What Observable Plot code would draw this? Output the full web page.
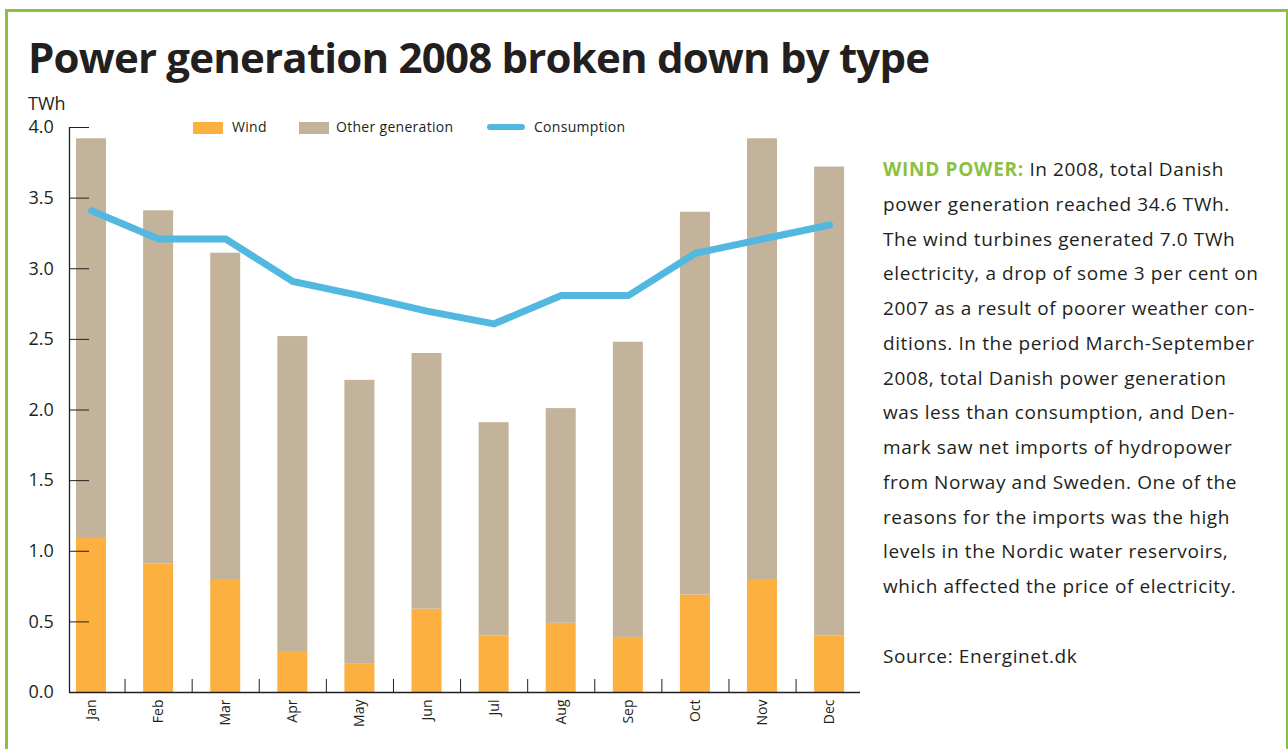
<!DOCTYPE html>
<html>
<head>
<meta charset="utf-8">
<script src="https://cdn.jsdelivr.net/npm/d3@7"></script>
<script src="https://cdn.jsdelivr.net/npm/@observablehq/plot@0.6"></script>
<style>
  body { margin: 0; width: 1288px; height: 749px; overflow: hidden; background: #fff;
         font-family: "Open Sans", sans-serif; color: #231f20; position: relative; }
  #box { position: absolute; left: 5px; top: 9px; width: 1278px; height: 760px;
         border: 3px solid #8cc03f; border-bottom: none; }
  h1 { position: absolute; left: 28px; top: 36px; margin: 0; font-size: 42px; line-height: 42px;
       font-weight: 700; letter-spacing: -0.8px; white-space: nowrap; }
  #unit { position: absolute; left: 28px; top: 94px; font-size: 18px; line-height: 18px; }
  #chart { position: absolute; left: 0; top: 110px; }
  .legend { position: absolute; top: 120px; font-size: 14px; line-height: 14px; white-space: nowrap;
            letter-spacing: 0.3px; }
  .sw { position: absolute; top: 122px; width: 30px; height: 12px; }
  .ln { position: absolute; top: 124px; width: 38px; height: 6px; border-radius: 3px; }
  #note { position: absolute; left: 883px; top: 152px; width: 400px; font-size: 19px;
          line-height: 34.75px; letter-spacing: 0.6px; white-space: nowrap; }
  #note b { color: #8cc03f; font-weight: 700; letter-spacing: 0.7px; }
</style>
</head>
<body>
<div id="box"></div>
<h1>Power generation 2008 broken down by type</h1>
<div id="unit">TWh</div>
<div id="chart"></div>
<div id="legend"></div>
<div id="note"></div>
<script>
// Monthly Danish power figures, 2008 (TWh)
const months = ["Jan", "Feb", "Mar", "Apr", "May", "Jun", "Jul", "Aug", "Sep", "Oct", "Nov", "Dec"];
const wind = [1.09, 0.91, 0.80, 0.29, 0.20, 0.59, 0.40, 0.49, 0.39, 0.69, 0.80, 0.40];
const totalGeneration = [3.92, 3.41, 3.11, 2.52, 2.21, 2.40, 1.91, 2.01, 2.48, 3.40, 3.92, 3.72];
const consumption = [3.41, 3.21, 3.21, 2.91, 2.81, 2.70, 2.61, 2.81, 2.81, 3.11, 3.21, 3.31];
const yTicks = [0, 0.5, 1, 1.5, 2, 2.5, 3, 3.5, 4];

const seriesNames = ["Wind", "Other generation", "Consumption"];
const colors = { wind: "#fbb040", other: "#c4b39b", consumption: "#52b8e0", ink: "#231f20" };

const noteLines = [
  "In 2008, total Danish",
  "power generation reached 34.6 TWh.",
  "The wind turbines generated 7.0 TWh",
  "electricity, a drop of some 3 per cent on",
  "2007 as a result of poorer weather con-",
  "ditions. In the period March-September",
  "2008, total Danish power generation",
  "was less than consumption, and Den-",
  "mark saw net imports of hydropower",
  "from Norway and Sweden. One of the",
  "reasons for the imports was the high",
  "levels in the Nordic water reservoirs,",
  "which affected the price of electricity."
];
const noteHeading = "WIND POWER:";
const source = "Source: Energinet.dk";

const rows = months.map((m, i) => ({
  i, month: m, wind: wind[i], total: totalGeneration[i], consumption: consumption[i]
}));

// month index i sits at the centre of its slot; the y axis sits left of January
const xDomain = [-0.328, 11.46];
const half = 0.2236; // half bar width, in month units
const between = d3.range(11).map(i => i + 0.5);

const chart = Plot.plot({
  width: 870,
  height: 639,
  marginTop: 17,
  marginBottom: 57,
  marginLeft: 69,
  marginRight: 10,
  style: { fontFamily: "Open Sans, sans-serif", color: colors.ink, background: "transparent", overflow: "visible" },
  x: { type: "linear", domain: xDomain },
  y: { domain: [0, 4] },
  marks: [
    Plot.rectY(rows, { x1: d => d.i - half, x2: d => d.i + half, y1: 0, y2: "wind", fill: colors.wind }),
    Plot.rectY(rows, { x1: d => d.i - half, x2: d => d.i + half, y1: "wind", y2: "total", fill: colors.other }),
    Plot.line(rows, { x: "i", y: "consumption", stroke: colors.consumption, strokeWidth: 7,
                      strokeLinecap: "round", strokeLinejoin: "miter", strokeMiterlimit: 4 }),
    Plot.ruleX([xDomain[0]], { stroke: colors.ink, strokeWidth: 1.3 }),
    Plot.ruleY([0], { stroke: colors.ink, strokeWidth: 1.3 }),
    Plot.axisY(yTicks, { tickSize: -20, fill: "none", stroke: colors.ink, label: null }),
    Plot.axisY(yTicks, { tickSize: 0, tickPadding: 0, textAnchor: "start", dx: -41, fontSize: 18,
                         tickFormat: d3.format(".1f"), fill: colors.ink, label: null }),
    Plot.axisX(between, { tickSize: -13, fill: "none", stroke: colors.ink, label: null }),
    Plot.axisX(d3.range(12), { tickSize: 0, tickPadding: 7, tickRotate: -90, fontSize: 14,
                               tickFormat: i => months[i], fill: colors.ink, label: null })
  ]
});
document.getElementById("chart").append(chart);

// legend row
const legend = document.getElementById("legend");
legend.innerHTML = `
  <div class="sw" style="left:193px;background:${colors.wind}"></div>
  <div class="legend" style="left:232px">${seriesNames[0]}</div>
  <div class="sw" style="left:299px;background:${colors.other}"></div>
  <div class="legend" style="left:336px">${seriesNames[1]}</div>
  <div class="ln" style="left:487px;background:${colors.consumption}"></div>
  <div class="legend" style="left:534px">${seriesNames[2]}</div>`;

// side note
const note = document.getElementById("note");
note.innerHTML = `<b>${noteHeading}</b> ` + noteLines.join("<br>") + "<br><br>" + source;
</script>
</body>
</html>
